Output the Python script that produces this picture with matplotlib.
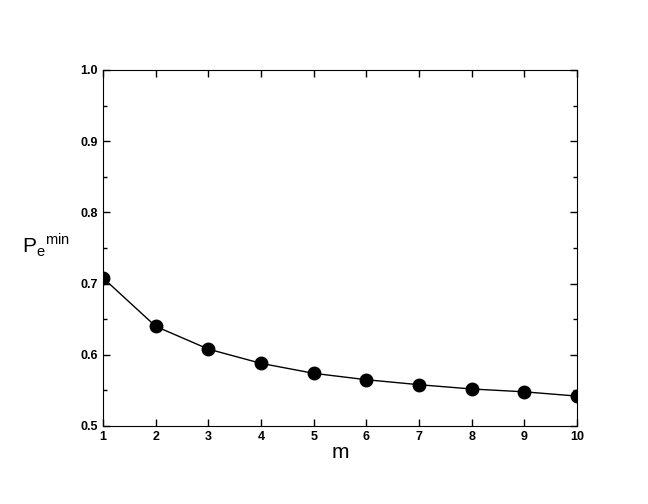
import matplotlib
matplotlib.use("Agg")
import matplotlib.pyplot as plt

m = [1, 2, 3, 4, 5, 6, 7, 8, 9, 10]
pe_min = [0.708, 0.640, 0.608, 0.588, 0.574, 0.565, 0.558, 0.552, 0.548, 0.542]

plt.rcParams['font.family'] = ['Liberation Sans', 'DejaVu Sans']
fig = plt.figure(figsize=(6.48, 5.04), dpi=100)
ax = fig.add_axes([103/648, 1-426/504, 474/648, 356/504])
ax.plot(m, pe_min, color='black', lw=1, marker='o', ms=9)
ax.set_xlim(1, 10)
ax.set_ylim(0.5, 1.0)
ax.set_xticks(m)
ax.set_yticks([0.5, 0.6, 0.7, 0.8, 0.9, 1.0])
ax.set_yticks([0.55, 0.65, 0.75, 0.85, 0.95], minor=True)
ax.tick_params(which='both', direction='in', top=True, right=True, labelsize=9, width=1)
ax.tick_params(which='major', length=5)
ax.tick_params(which='minor', length=3)
for lab in ax.get_xticklabels() + ax.get_yticklabels():
    lab.set_fontweight('bold')
ax.set_xlabel('m', fontsize=15, labelpad=0)
ax.set_ylabel(r'P$_{\mathregular{e}}$$^{\mathregular{min}}$', fontsize=15, rotation=0, labelpad=22)
ax.yaxis.set_label_coords(-0.12, 0.47)
fig.savefig('out.png')
